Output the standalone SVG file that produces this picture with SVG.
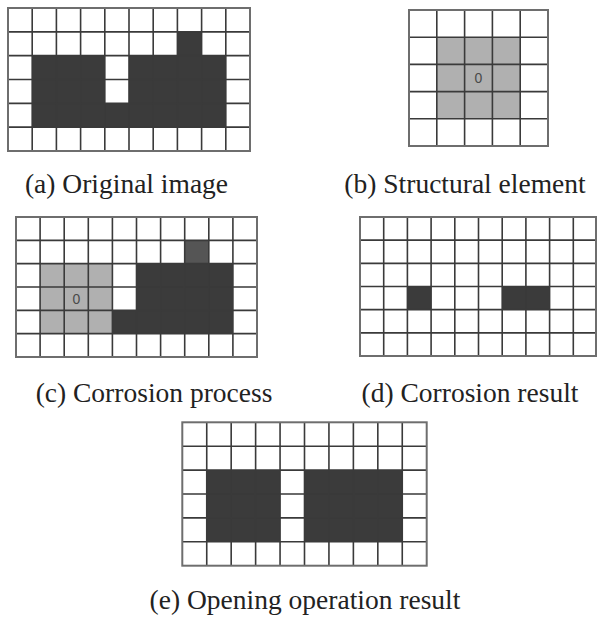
<svg xmlns="http://www.w3.org/2000/svg" width="597" height="622" viewBox="0 0 597 622">
<style>
.bg{fill:#ffffff}
.dark{fill:#3b3b3b}
.mid{fill:#555555}
.gray{fill:#b0b0b0}
.grid{fill:none;stroke:#3a3a3a;stroke-width:1.6}
.frame{fill:none;stroke:#6e6e6e;stroke-width:2}
.lbl{font-family:"Liberation Serif","Times New Roman",serif;font-size:27.5px;fill:#222222;text-anchor:middle}
.org{font-family:"Liberation Sans",Arial,sans-serif;font-size:14px;fill:#4a4a4a;text-anchor:middle}
</style>
<rect class="bg" x="0" y="0" width="597" height="622"/>

<g id="grid-a">
<rect class="dark" x="177.4" y="31.83" width="24.2" height="23.84"/>
<rect class="dark" x="32.2" y="55.67" width="193.6" height="71.5"/>
<rect class="bg" x="104.8" y="55.67" width="24.2" height="47.66"/>
<path class="grid" d="M32.2 8V151M56.4 8V151M80.6 8V151M104.8 8V151M129 8V151M153.2 8V151M177.4 8V151M201.6 8V151M225.8 8V151M8 31.83H250M8 55.67H250M8 79.5H250M8 103.33H250M8 127.17H250"/>
<rect class="frame" x="8" y="8" width="242" height="143"/>
</g>

<g id="grid-b">
<rect class="gray" x="436.8" y="37.2" width="83.4" height="81.6"/>
<path class="grid" d="M436.8 10V146M464.6 10V146M492.4 10V146M520.2 10V146M409 37.2H548M409 64.4H548M409 91.6H548M409 118.8H548"/>
<rect class="frame" x="409" y="10" width="139" height="136"/>
<text class="org" x="478.5" y="83">0</text>
</g>

<g id="grid-c">
<rect class="mid" x="184.7" y="240.33" width="24.1" height="23.34"/>
<rect class="gray" x="40.1" y="263.67" width="72.3" height="70"/>
<rect class="dark" x="112.4" y="310.33" width="24.1" height="23.34"/>
<rect class="dark" x="136.5" y="263.67" width="96.4" height="70"/>
<path class="grid" d="M40.1 217V357M64.2 217V357M88.3 217V357M112.4 217V357M136.5 217V357M160.6 217V357M184.7 217V357M208.8 217V357M232.9 217V357M16 240.33H257M16 263.67H257M16 287H257M16 310.33H257M16 333.67H257"/>
<rect class="frame" x="16" y="217" width="241" height="140"/>
<text class="org" x="76.3" y="303.5">0</text>
</g>

<g id="grid-d">
<rect class="dark" x="407.4" y="286.5" width="23.7" height="23.17"/>
<rect class="dark" x="502.2" y="286.5" width="47.4" height="23.17"/>
<path class="grid" d="M383.7 217V356M407.4 217V356M431.1 217V356M454.8 217V356M478.5 217V356M502.2 217V356M525.9 217V356M549.6 217V356M573.3 217V356M360 240.17H596M360 263.33H596M360 286.5H596M360 309.67H596M360 332.83H596"/>
<rect class="frame" x="360" y="217" width="236" height="139"/>
</g>

<g id="grid-e">
<rect class="dark" x="206.74" y="470.1" width="73.32" height="71.7"/>
<rect class="dark" x="304.5" y="470.1" width="97.76" height="71.7"/>
<path class="grid" d="M206.74 422.3V565.7M231.18 422.3V565.7M255.62 422.3V565.7M280.06 422.3V565.7M304.5 422.3V565.7M328.94 422.3V565.7M353.38 422.3V565.7M377.82 422.3V565.7M402.26 422.3V565.7M182.3 446.2H426.7M182.3 470.1H426.7M182.3 494H426.7M182.3 517.9H426.7M182.3 541.8H426.7"/>
<rect class="frame" x="182.3" y="422.3" width="244.4" height="143.4"/>
</g>

<g id="labels">
<text class="lbl" x="126.5" y="193">(a) Original image</text>
<text class="lbl" x="465" y="193">(b) Structural element</text>
<text class="lbl" x="154" y="401.5">(c) Corrosion process</text>
<text class="lbl" x="470" y="401.5">(d) Corrosion result</text>
<text class="lbl" x="305" y="608.5">(e) Opening operation result</text>
</g>
</svg>
